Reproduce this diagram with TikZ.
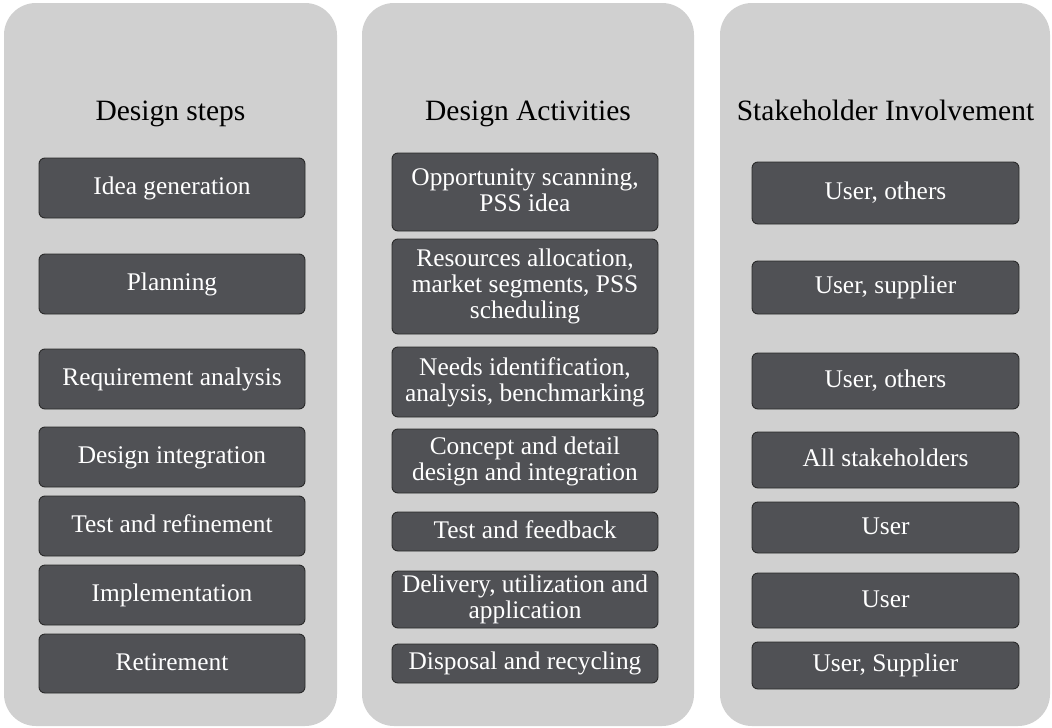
\documentclass[tikz,border=0pt]{standalone}
\usepackage{fontspec}
\setmainfont{Liberation Serif}
\definecolor{panelgray}{HTML}{D0D0D0}
\definecolor{boxgray}{HTML}{505155}
\definecolor{boxedge}{HTML}{2A2A2A}
\newcommand\tstrut{\rule{0pt}{17.5pt}}
\newcommand\bstrut{\rule[-4.5pt]{0pt}{4.5pt}}
\tikzset{
  panel/.style={fill=panelgray, rounded corners=32pt},
  stepbox/.style={draw=boxedge, line width=0.9pt, fill=boxgray, rounded corners=6pt,
    text=white, align=center, inner sep=0pt, font=\fontsize{25.4}{26}\selectfont},
  coltitle/.style={anchor=base, inner sep=0pt, font=\fontsize{29.5}{32}\selectfont}
}
\newcommand\bx[6]{\node[stepbox, minimum width={(#4-#2)*1pt}, minimum height={(#5-#3)*1pt}]
  (#1) at ({(#2+#4)/2},{(#3+#5)/2}) {\tstrut #6\bstrut};}
\begin{document}
\begin{tikzpicture}[x=1pt,y=-1pt]
\useasboundingbox (0,0) rectangle (1052,728);
\fill[white] (0,0) rectangle (1052,728);
% panels
\fill[panel] (4,3) rectangle (337,726);
\fill[panel] (362,3) rectangle (694,726);
\fill[panel] (720,3) rectangle (1050,726);
% titles
\node[coltitle] (t1) at (170.5,120.5) {Design steps};
\node[coltitle] (t2) at (528,120.5) {Design Activities};
\node[coltitle] (t3) at (885.5,120.5) {Stakeholder Involvement};
% column 1
\bx{a1}{39}{158}{305}{218}{Idea generation}
\bx{a2}{39}{254}{305}{314}{Planning}
\bx{a3}{39}{349}{305}{409}{Requirement analysis}
\bx{a4}{39}{427}{305}{487}{Design integration}
\bx{a5}{39}{496}{305}{556}{Test and refinement}
\bx{a6}{39}{565}{305}{625}{Implementation}
\bx{a7}{39}{634}{305}{693}{Retirement}
% column 2
\bx{b1}{392}{153}{658}{231}{Opportunity scanning,\\PSS idea}
\bx{b2}{392}{239}{658}{334}{Resources allocation,\\market segments, PSS\\scheduling}
\bx{b3}{392}{347}{658}{417}{Needs identification,\\analysis, benchmarking}
\bx{b4}{392}{429}{658}{493}{Concept and detail\\design and integration}
\bx{b5}{392}{512}{658}{551}{Test and feedback}
\bx{b6}{392}{571}{658}{628}{Delivery, utilization and\\application}
\bx{b7}{392}{644}{658}{683}{Disposal and recycling}
% column 3
\bx{c1}{752}{162}{1019}{224}{User, others}
\bx{c2}{752}{261}{1019}{314}{User, supplier}
\bx{c3}{752}{353}{1019}{409}{User, others}
\bx{c4}{752}{432}{1019}{488}{All stakeholders}
\bx{c5}{752}{502}{1019}{553}{User}
\bx{c6}{752}{573}{1019}{628}{User}
\bx{c7}{752}{642}{1019}{689}{User, Supplier}
\end{tikzpicture}
\end{document}
